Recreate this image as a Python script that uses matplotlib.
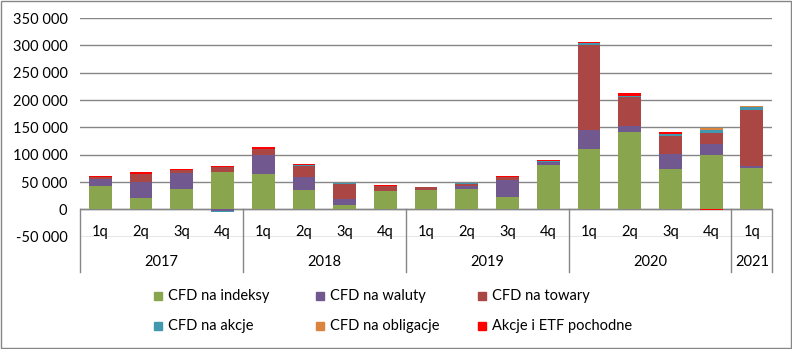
import numpy as np
import matplotlib
matplotlib.use('Agg')
import matplotlib.pyplot as plt
from matplotlib.patches import Rectangle
from matplotlib.transforms import blended_transform_factory

plt.rcParams['font.family'] = ['Lato', 'DejaVu Sans']
plt.rcParams['font.size'] = 10.5

# data
quarters = ['1q', '2q', '3q', '4q'] * 4 + ['1q']
years = ['2017', '2018', '2019', '2020', '2021']
year_counts = [4, 4, 4, 4, 1]

series_names = ['CFD na indeksy', 'CFD na waluty', 'CFD na towary',
                'CFD na akcje', 'CFD na obligacje', 'Akcje i ETF pochodne']
indeksy = [43000, 21000, 37000, 68000, 65000, 35000, 8000, 33500, 35500,
           37000, 22500, 81000, 110500, 141500, 74000, 99500, 76000]
waluty = [12500, 29500, 29000, -3000, 34000, 23500, 10000, 0, 500,
          6000, 31000, 5500, 34500, 11000, 27500, 20000, 3500]
towary = [3000, 14000, 6000, 9500, 11500, 21000, 29000, 10000, 4000,
          2500, 5000, 1000, 156000, 53000, 33500, 19500, 102500]
akcje = [1000, 1000, 500, -1500, 500, 1000, 500, 0, 500,
         2000, 500, 500, 3000, 2000, 3000, 6000, 5000]
obligacje = [0, 0, 0, 0, 0, 0, 0, 0, 0, 0, 0, 0, 0, 0, 0, 4500, 1500]
etf = [1500, 2500, 1500, 2500, 3500, 2500, 1000, 1000, 1000,
       1500, 2500, 1500, 2000, 5500, 3700, -1500, 1500]

colors = ['#89A54E', '#71588F', '#AA4643', '#4198AF', '#DB843D', '#FF0000']
series = [indeksy, waluty, towary, akcje, obligacje, etf]

fig = plt.figure(figsize=(7.92, 3.49), dpi=100)
ax = fig.add_axes([0.101, 0.322, 0.874, 0.626])

x = np.arange(len(quarters))
pos_bottom = np.zeros(len(x))
neg_bottom = np.zeros(len(x))
for vals, col in zip(series, colors):
    v = np.array(vals, dtype=float)
    bottom = np.where(v >= 0, pos_bottom, neg_bottom)
    ax.bar(x, v, 0.56, bottom=bottom, color=col, zorder=3)
    pos_bottom += np.where(v > 0, v, 0)
    neg_bottom += np.where(v < 0, v, 0)

ax.set_xlim(-0.5, len(x) - 0.5)
ax.set_ylim(-50000, 350000)
ax.set_yticks(np.arange(-50000, 350001, 50000))
ax.set_yticklabels([f'{t:,}'.replace(',', ' ') for t in range(-50000, 350001, 50000)])
ax.tick_params(axis='y', length=0, pad=9)
ax.set_xticks([])
for s in ax.spines.values():
    s.set_visible(False)
ax.grid(axis='y', color='#868686', lw=1, zorder=1)
ax.axhline(0, color='#868686', lw=1, zorder=2)

trans = blended_transform_factory(ax.transData, ax.transAxes)
for i, q in enumerate(quarters):
    ax.text(i, 0.021, q, transform=trans, ha='center', va='center', zorder=4)

start = 0
bounds = [-0.5]
for yr, n in zip(years, year_counts):
    ax.text(start + (n - 1) / 2, -0.116, yr, transform=trans,
            ha='center', va='center')
    start += n
    bounds.append(start - 0.5)
y0 = 50000 / 400000
for b in bounds:
    ax.plot([b, b], [y0, -0.162], transform=trans, color='#868686',
            lw=1, clip_on=False)

# legend, three per row like the original
for i, (name, col) in enumerate(zip(series_names, colors)):
    row, c = divmod(i, 3)
    px = 154 + c * 162
    py = 296 + row * 30
    fig.add_artist(Rectangle((px / 792, 1 - (py + 4) / 349), 8 / 792, 8 / 349,
                             transform=fig.transFigure, color=col))
    fig.text((px + 14) / 792, 1 - py / 349, name, va='center', ha='left')

fig.add_artist(Rectangle((0.0015, 0.003), 0.997, 0.994, transform=fig.transFigure,
                         fill=False, edgecolor='#868686', lw=1))

fig.savefig('out.png', dpi=100)
